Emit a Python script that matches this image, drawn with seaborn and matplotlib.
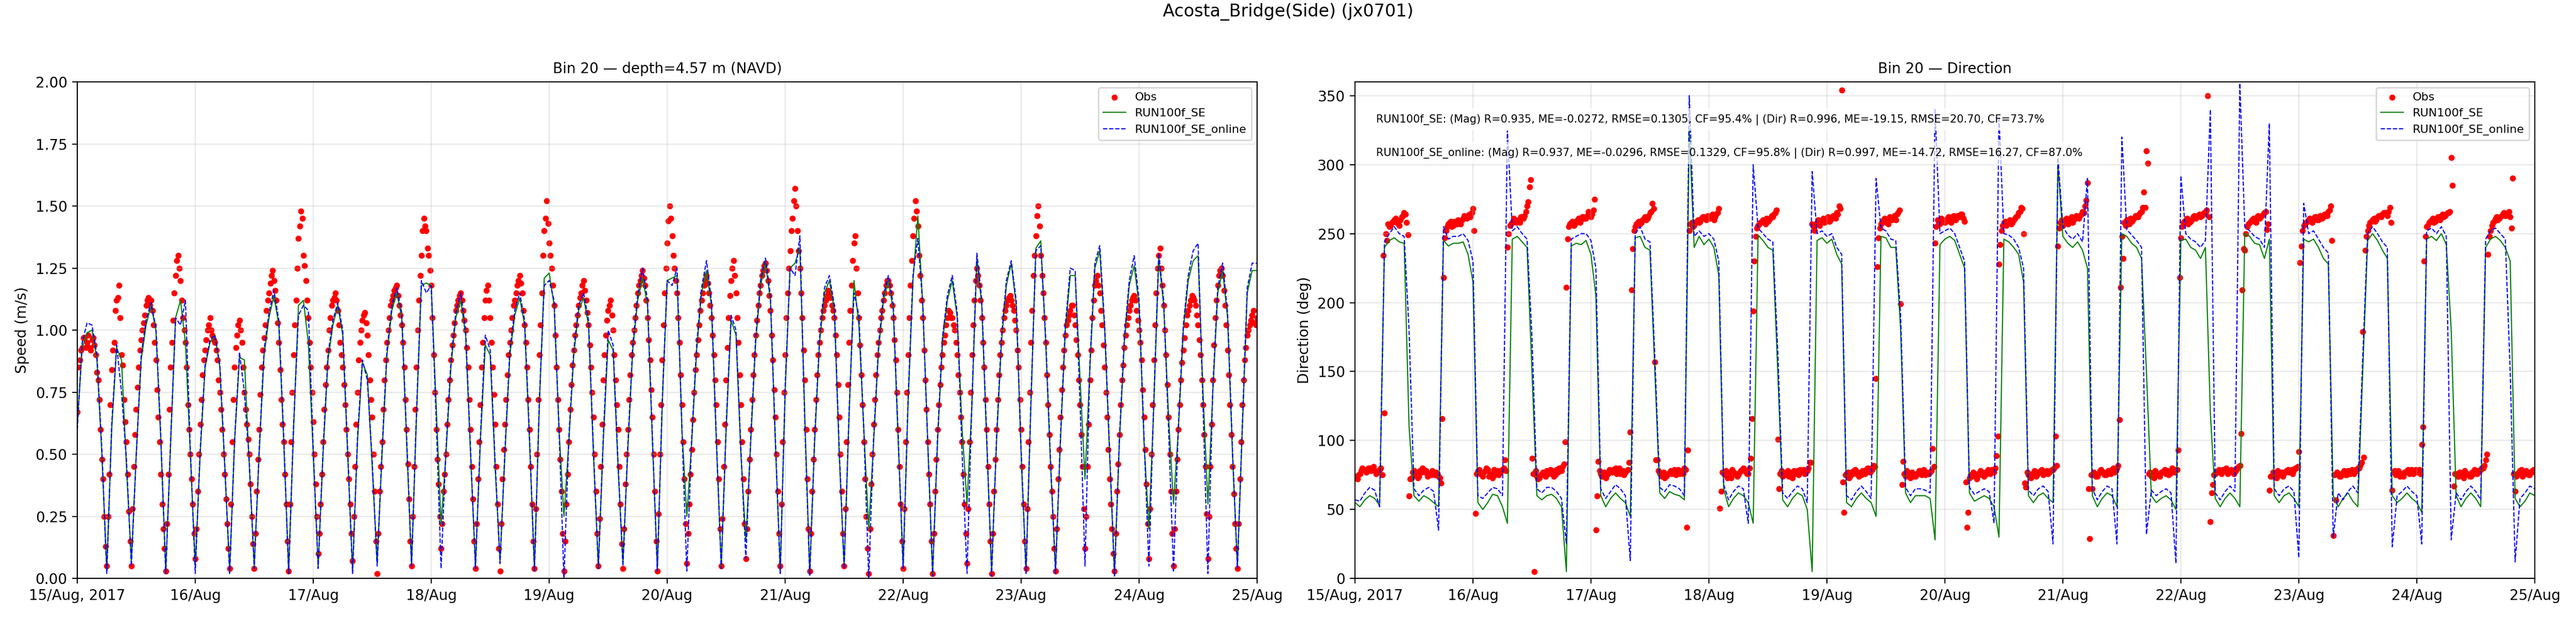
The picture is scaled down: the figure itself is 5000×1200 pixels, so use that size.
import matplotlib
matplotlib.use("Agg")
import matplotlib.pyplot as plt
import seaborn as sns
import pandas as pd

# observed speed (m/s), every 30 min from 15/Aug 00:00
obs_speed = [
    0.67, 0.88, 0.93, 0.97, 0.95, 0.93, 0.96, 0.94, 0.83, 0.72, 0.48, 0.25, 0.05, 0.42, 0.84, 0.95, 1.12, 1.18, 0.90, 0.72, 0.55, 0.27,
    0.05, 0.45, 0.68, 0.85, 0.96, 1.03, 1.10, 1.13, 1.12, 1.02, 0.88, 0.65, 0.42, 0.20, 0.03, 0.42, 0.85, 1.04, 1.22, 1.30, 1.20, 1.05, 0.95, 0.70, 0.50, 0.30,
    0.08, 0.35, 0.62, 0.82, 0.92, 1.00, 1.05, 0.98, 0.95, 0.88, 0.75, 0.60, 0.42, 0.22, 0.04, 0.55, 0.85, 0.98, 1.04, 0.95, 0.75, 0.62, 0.50, 0.25,
    0.04, 0.35, 0.60, 0.85, 0.97, 1.08, 1.15, 1.22, 1.20, 1.12, 0.95, 0.72, 0.55, 0.30, 0.03, 0.55, 0.90, 1.12, 1.37, 1.48, 1.30, 1.20, 1.05, 0.85,
    0.63, 0.38, 0.10, 0.30, 0.55, 0.78, 0.92, 1.05, 1.12, 1.15, 1.08, 0.95, 0.85, 0.70, 0.50, 0.30, 0.07, 0.45, 0.75, 0.95, 1.04, 1.07, 0.98, 0.80,
    0.65, 0.35, 0.02, 0.35, 0.55, 0.80, 0.95, 1.05, 1.12, 1.16, 1.18, 1.10, 1.02, 0.85, 0.60, 0.32, 0.05, 0.45, 0.85, 1.12, 1.30, 1.45, 1.40, 1.30,
    1.18, 0.90, 0.60, 0.38, 0.12, 0.35, 0.50, 0.72, 0.88, 0.98, 1.08, 1.12, 1.15, 1.08, 1.00, 0.85, 0.60, 0.32, 0.04, 0.40, 0.70, 0.95, 1.12, 1.18,
    1.05, 0.85, 0.62, 0.30, 0.03, 0.40, 0.62, 0.82, 0.95, 1.05, 1.12, 1.18, 1.22, 1.15, 1.02, 0.85, 0.60, 0.30, 0.04, 0.50, 0.90, 1.15, 1.40, 1.52,
    1.35, 1.25, 1.10, 0.85, 0.60, 0.35, 0.03, 0.30, 0.55, 0.78, 0.92, 1.02, 1.10, 1.15, 1.20, 1.12, 1.02, 0.85, 0.65, 0.35, 0.05, 0.45, 0.80, 0.98,
    1.08, 1.12, 1.00, 0.80, 0.60, 0.30, 0.04, 0.38, 0.60, 0.82, 0.95, 1.05, 1.15, 1.20, 1.24, 1.18, 1.05, 0.88, 0.65, 0.35, 0.03, 0.50, 0.88, 1.15,
    1.35, 1.50, 1.38, 1.25, 1.15, 0.95, 0.70, 0.40, 0.06, 0.30, 0.52, 0.75, 0.90, 1.02, 1.12, 1.18, 1.22, 1.15, 1.05, 0.90, 0.70, 0.40, 0.05, 0.45,
    0.80, 1.05, 1.20, 1.28, 1.15, 0.95, 0.70, 0.40, 0.08, 0.35, 0.60, 0.82, 0.98, 1.10, 1.18, 1.24, 1.27, 1.20, 1.08, 0.88, 0.65, 0.35, 0.05, 0.55,
    0.90, 1.15, 1.32, 1.45, 1.57, 1.40, 1.25, 1.05, 0.80, 0.40, 0.03, 0.35, 0.60, 0.82, 0.95, 1.05, 1.10, 1.14, 1.15, 1.10, 1.05, 0.90, 0.65, 0.35,
    0.05, 0.55, 0.95, 1.18, 1.35, 1.25, 1.05, 0.82, 0.55, 0.25, 0.02, 0.38, 0.62, 0.82, 0.95, 1.05, 1.12, 1.18, 1.20, 1.15, 1.05, 0.88, 0.60, 0.30,
    0.04, 0.55, 0.90, 1.18, 1.38, 1.52, 1.42, 1.22, 1.05, 0.80, 0.55, 0.30, 0.02, 0.35, 0.60, 0.78, 0.90, 0.98, 1.05, 1.07, 1.05, 1.00, 0.90, 0.75,
    0.55, 0.30, 0.06, 0.55, 0.90, 1.12, 1.25, 1.18, 1.05, 0.85, 0.60, 0.30, 0.02, 0.35, 0.60, 0.82, 0.95, 1.05, 1.10, 1.13, 1.12, 1.08, 1.00, 0.85,
    0.60, 0.30, 0.04, 0.55, 0.95, 1.22, 1.38, 1.50, 1.30, 1.15, 0.95, 0.70, 0.45, 0.25, 0.03, 0.40, 0.65, 0.85, 0.98, 1.04, 1.08, 1.10, 1.02, 0.90,
    0.70, 0.45, 0.12, 0.45, 0.80, 1.05, 1.18, 1.22, 1.15, 1.02, 0.85, 0.65, 0.40, 0.20, 0.03, 0.35, 0.58, 0.80, 0.93, 1.02, 1.08, 1.12, 1.14, 1.08,
    1.00, 0.88, 0.65, 0.38, 0.08, 0.50, 0.88, 1.15, 1.30, 1.25, 1.10, 0.90, 0.65, 0.35, 0.05, 0.35, 0.60, 0.80, 0.92, 1.02, 1.08, 1.12, 1.13, 1.10,
    1.02, 0.90, 0.70, 0.45, 0.08, 0.45, 0.80, 1.05, 1.18, 1.24, 1.22, 1.10, 0.92, 0.70, 0.45, 0.22, 0.04, 0.40, 0.70, 0.88, 0.98, 1.02, 1.06, 1.03,
    1.05,
]
# observed speed at the quarter past / quarter to samples (00:15, 00:45, ...)
obs_speed_q = [
    0.85, 0.92, 0.97, 0.93, 0.98, 0.92, 0.97, 0.90, 0.80, 0.60, 0.40, 0.13, 0.25, 0.70, 0.92, 1.08, 1.13, 1.05, 0.86, 0.63, 0.42, 0.15,
    0.28, 0.58, 0.77, 0.92, 1.00, 1.06, 1.12, 1.10, 1.08, 0.95, 0.76, 0.55, 0.30, 0.12, 0.22, 0.68, 0.95, 1.15, 1.28, 1.25, 1.12, 1.00, 0.85, 0.60, 0.40, 0.18,
    0.20, 0.50, 0.72, 0.88, 0.96, 1.02, 1.00, 0.96, 0.92, 0.80, 0.68, 0.50, 0.32, 0.12, 0.30, 0.72, 0.93, 1.02, 1.00, 0.85, 0.68, 0.56, 0.38, 0.14,
    0.18, 0.48, 0.74, 0.92, 1.02, 1.12, 1.19, 1.24, 1.16, 1.03, 0.84, 0.62, 0.42, 0.15, 0.30, 0.75, 1.02, 1.25, 1.42, 1.45, 1.26, 1.12, 0.95, 0.75,
    0.50, 0.25, 0.18, 0.42, 0.68, 0.85, 1.00, 1.10, 1.13, 1.12, 1.02, 0.90, 0.78, 0.60, 0.40, 0.18, 0.25, 0.62, 0.88, 1.00, 1.06, 1.03, 0.90, 0.72,
    0.50, 0.15, 0.18, 0.45, 0.68, 0.88, 1.00, 1.10, 1.14, 1.17, 1.14, 1.06, 0.95, 0.72, 0.46, 0.15, 0.25, 0.68, 1.00, 1.22, 1.40, 1.42, 1.33, 1.24,
    1.05, 0.75, 0.48, 0.25, 0.22, 0.42, 0.62, 0.80, 0.94, 1.03, 1.10, 1.14, 1.12, 1.04, 0.93, 0.72, 0.45, 0.15, 0.22, 0.55, 0.85, 1.05, 1.16, 1.12,
    0.95, 0.74, 0.45, 0.12, 0.22, 0.52, 0.72, 0.90, 1.00, 1.10, 1.15, 1.20, 1.19, 1.08, 0.95, 0.72, 0.45, 0.15, 0.28, 0.72, 1.02, 1.30, 1.45, 1.43,
    1.30, 1.18, 0.98, 0.72, 0.48, 0.18, 0.15, 0.42, 0.68, 0.86, 0.98, 1.06, 1.13, 1.18, 1.16, 1.07, 0.94, 0.75, 0.50, 0.18, 0.24, 0.62, 0.90, 1.04,
    1.10, 1.06, 0.90, 0.70, 0.45, 0.14, 0.20, 0.50, 0.72, 0.90, 1.00, 1.10, 1.18, 1.22, 1.21, 1.12, 0.96, 0.76, 0.50, 0.15, 0.26, 0.70, 1.02, 1.25,
    1.44, 1.45, 1.30, 1.20, 1.05, 0.82, 0.55, 0.22, 0.18, 0.42, 0.64, 0.84, 0.96, 1.08, 1.15, 1.20, 1.19, 1.10, 0.98, 0.80, 0.55, 0.20, 0.24, 0.62,
    0.93, 1.14, 1.25, 1.22, 1.05, 0.82, 0.55, 0.22, 0.20, 0.48, 0.72, 0.90, 1.04, 1.15, 1.22, 1.26, 1.24, 1.14, 0.98, 0.76, 0.50, 0.18, 0.30, 0.75,
    1.05, 1.25, 1.40, 1.52, 1.50, 1.32, 1.15, 0.92, 0.60, 0.20, 0.18, 0.48, 0.72, 0.90, 1.00, 1.08, 1.12, 1.16, 1.13, 1.08, 0.98, 0.78, 0.50, 0.18,
    0.28, 0.78, 1.08, 1.28, 1.38, 1.15, 0.94, 0.70, 0.40, 0.12, 0.20, 0.50, 0.72, 0.90, 1.00, 1.08, 1.15, 1.20, 1.18, 1.10, 0.96, 0.75, 0.45, 0.15,
    0.28, 0.75, 1.05, 1.28, 1.45, 1.48, 1.30, 1.12, 0.92, 0.68, 0.42, 0.15, 0.18, 0.48, 0.70, 0.85, 0.95, 1.02, 1.08, 1.05, 1.02, 0.95, 0.82, 0.65,
    0.42, 0.18, 0.28, 0.75, 1.02, 1.20, 1.22, 1.12, 0.95, 0.72, 0.45, 0.15, 0.18, 0.48, 0.72, 0.90, 1.00, 1.08, 1.12, 1.14, 1.10, 1.04, 0.92, 0.72,
    0.45, 0.15, 0.28, 0.75, 1.08, 1.30, 1.46, 1.42, 1.22, 1.05, 0.82, 0.58, 0.35, 0.12, 0.20, 0.52, 0.76, 0.92, 1.02, 1.06, 1.10, 1.06, 0.96, 0.80,
    0.58, 0.28, 0.25, 0.62, 0.92, 1.12, 1.20, 1.18, 1.08, 0.94, 0.75, 0.52, 0.30, 0.10, 0.18, 0.46, 0.70, 0.86, 0.98, 1.05, 1.10, 1.13, 1.12, 1.04,
    0.95, 0.76, 0.52, 0.22, 0.28, 0.70, 1.02, 1.25, 1.33, 1.18, 1.00, 0.78, 0.50, 0.18, 0.20, 0.48, 0.70, 0.87, 0.97, 1.06, 1.10, 1.14, 1.12, 1.06,
    0.96, 0.80, 0.58, 0.26, 0.25, 0.62, 0.94, 1.12, 1.22, 1.25, 1.16, 1.02, 0.82, 0.58, 0.34, 0.12, 0.22, 0.55, 0.80, 0.93, 1.00, 1.04, 1.08, 1.02,
]

# model speed (m/s), hourly
se_speed = [
    0.62, 0.93, 0.99, 1.00, 0.88, 0.50, 0.03, 0.60, 0.93, 0.88, 0.45, 0.07, 0.50, 0.88, 1.02, 1.10, 1.00, 0.55, 0.03, 0.55, 1.05, 1.12, 0.95, 0.50,
    0.05, 0.50, 0.85, 0.95, 0.98, 0.85, 0.45, 0.03, 0.55, 0.89, 0.88, 0.45, 0.05, 0.50, 0.90, 1.05, 1.14, 1.02, 0.55, 0.03, 0.60, 1.10, 1.12, 0.95,
    0.50, 0.05, 0.50, 0.88, 1.02, 1.10, 0.98, 0.50, 0.03, 0.55, 0.87, 0.82, 0.45, 0.06, 0.50, 0.90, 1.08, 1.15, 1.05, 0.55, 0.05, 0.65, 1.18, 1.19,
    1.18, 0.70, 0.22, 0.50, 0.85, 1.05, 1.12, 0.98, 0.50, 0.05, 0.55, 0.94, 0.90, 0.45, 0.07, 0.50, 0.90, 1.06, 1.13, 1.02, 0.55, 0.04, 0.70, 1.21,
    1.23, 1.10, 0.60, 0.25, 0.55, 0.90, 1.08, 1.13, 1.02, 0.50, 0.05, 0.55, 0.96, 0.92, 0.45, 0.06, 0.52, 0.92, 1.12, 1.21, 1.10, 0.55, 0.04, 0.70,
    1.20, 1.21, 1.22, 0.60, 0.25, 0.55, 0.92, 1.15, 1.24, 1.10, 0.55, 0.05, 0.60, 1.04, 0.98, 0.50, 0.15, 0.55, 0.95, 1.18, 1.27, 1.12, 0.55, 0.03,
    0.75, 1.25, 1.27, 1.33, 0.65, 0.02, 0.55, 0.95, 1.15, 1.20, 1.08, 0.50, 0.05, 0.65, 1.20, 1.02, 0.60, 0.20, 0.55, 0.92, 1.12, 1.20, 1.08, 0.55,
    0.05, 0.70, 1.20, 1.46, 1.10, 0.55, 0.02, 0.55, 0.95, 1.12, 1.20, 1.05, 0.60, 0.30, 0.70, 1.29, 1.10, 0.55, 0.03, 0.55, 0.95, 1.18, 1.27, 1.10,
    0.50, 0.03, 0.70, 1.33, 1.36, 0.95, 0.45, 0.03, 0.55, 1.00, 1.22, 1.22, 0.80, 0.40, 0.85, 1.25, 1.32, 1.00, 0.50, 0.02, 0.55, 0.95, 1.18, 1.26,
    1.10, 0.55, 0.20, 0.70, 1.29, 1.10, 0.65, 0.30, 0.60, 1.00, 1.20, 1.28, 1.30, 0.75, 0.30, 0.75, 1.15, 1.24, 1.05, 0.50, 0.05, 0.60, 1.15, 1.24,
    1.24,
]
online_speed = [
    0.60, 0.95, 1.03, 1.02, 0.90, 0.52, 0.02, 0.62, 0.94, 0.75, 0.48, 0.05, 0.50, 0.90, 1.04, 1.11, 1.01, 0.57, 0.02, 0.56, 1.05, 1.02, 1.12, 0.52,
    0.02, 0.52, 0.86, 0.96, 0.98, 0.86, 0.46, 0.02, 0.56, 0.91, 0.75, 0.47, 0.04, 0.52, 0.92, 1.07, 1.16, 1.04, 0.57, 0.02, 0.62, 1.06, 1.10, 1.08,
    0.52, 0.04, 0.52, 0.90, 1.04, 1.11, 1.00, 0.52, 0.02, 0.57, 0.88, 0.80, 0.47, 0.05, 0.52, 0.92, 1.10, 1.17, 1.07, 0.57, 0.05, 0.67, 1.20, 1.15,
    1.18, 0.65, 0.04, 0.52, 0.87, 1.07, 1.15, 1.00, 0.52, 0.04, 0.57, 0.98, 0.92, 0.47, 0.06, 0.52, 0.92, 1.08, 1.15, 1.04, 0.57, 0.03, 0.72, 1.18,
    1.20, 1.12, 0.60, 0.00, 0.57, 0.92, 1.10, 1.15, 1.04, 0.52, 0.04, 0.57, 1.00, 0.94, 0.47, 0.05, 0.54, 0.94, 1.14, 1.25, 1.12, 0.57, 0.03, 0.72,
    1.20, 1.18, 1.25, 0.60, 0.03, 0.57, 0.94, 1.17, 1.28, 1.12, 0.57, 0.04, 0.62, 1.06, 1.00, 0.52, 0.08, 0.57, 0.97, 1.20, 1.29, 1.14, 0.57, 0.02,
    0.77, 1.25, 1.22, 1.38, 0.62, 0.01, 0.57, 0.97, 1.17, 1.22, 1.10, 0.52, 0.04, 0.67, 1.15, 1.06, 0.60, 0.00, 0.57, 0.94, 1.14, 1.22, 1.10, 0.57,
    0.04, 0.72, 1.22, 1.37, 1.10, 0.55, 0.01, 0.57, 0.97, 1.14, 1.22, 1.07, 0.50, 0.02, 0.72, 1.31, 1.12, 0.57, 0.01, 0.57, 0.97, 1.20, 1.28, 1.12,
    0.52, 0.02, 0.72, 1.32, 1.34, 0.97, 0.47, 0.02, 0.57, 1.02, 1.25, 1.24, 0.70, 0.05, 0.87, 1.27, 1.34, 1.02, 0.52, 0.01, 0.57, 0.97, 1.20, 1.30,
    1.12, 0.57, 0.05, 0.72, 1.31, 1.12, 0.60, 0.03, 0.62, 1.02, 1.22, 1.32, 1.35, 0.70, 0.02, 0.77, 1.17, 1.27, 1.07, 0.52, 0.04, 0.62, 1.17, 1.27,
    1.27,
]

# observed direction (deg), every 30 min
obs_dir = [
    74, 72, 76, 80, 79, 78, 80, 79, 78, 77, 79, 75, 120, 245, 255, 258, 260, 258, 256, 262, 265, 258,
    60, 73, 78, 76, 74, 77, 79, 78, 76, 75, 76, 77, 74, 69, 218, 252, 257, 259, 256, 258, 260, 257, 261, 262, 263, 262,
    268, 47, 78, 76, 74, 78, 79, 76, 73, 75, 78, 77, 79, 86, 240, 256, 258, 260, 259, 258, 262, 263, 270, 284,
    87, 5, 74, 73, 76, 75, 78, 77, 76, 74, 79, 80, 78, 83, 211, 255, 258, 256, 259, 261, 260, 262, 261, 266,
    262, 267, 35, 85, 76, 74, 73, 76, 78, 79, 80, 77, 76, 78, 77, 79, 106, 239, 255, 258, 257, 260, 262, 261, 265, 272,
    157, 86, 76, 74, 73, 75, 77, 76, 79, 78, 76, 77, 80, 37, 252, 258, 256, 259, 258, 261, 262, 260,
    262, 263, 260, 264, 268, 63, 76, 78, 74, 73, 77, 76, 75, 78, 80, 77, 76, 87, 194, 248, 256, 258, 260, 257, 259, 261, 262, 265,
    101, 76, 74, 75, 78, 77, 73, 76, 78, 79, 77, 76, 78, 84, 257, 252, 258, 256, 259, 258,
    260, 259, 261, 262, 265, 270, 354, 48, 76, 73, 77, 78, 76, 74, 75, 77, 79, 78, 80, 82, 145, 247, 257, 260, 258, 257, 261, 262, 260, 265,
    199, 85, 74, 76, 73, 75, 74, 76, 78, 77, 75, 76, 77, 94, 243, 260, 257, 259,
    258, 261, 259, 262, 261, 263, 262, 264, 259, 37, 73, 74, 76, 72, 75, 77, 74, 76, 78, 79, 77, 89, 228, 252, 258, 256, 259, 257, 260, 262, 265, 269,
    250, 66, 75, 73, 76, 74, 77, 78, 75, 77, 76, 78, 79, 103, 241, 258,
    256, 259, 257, 260, 258, 261, 262, 263, 266, 270, 287, 29, 65, 76, 74, 78, 77, 75, 76, 78, 79, 77, 80, 115,
    248, 258, 260, 257, 259, 261, 262, 264, 266, 280, 310, 76, 74, 73, 76, 75, 77, 78, 76, 75, 77, 78, 79, 93,
    247, 258, 260, 257, 259, 262, 261, 263, 262, 264, 265, 350, 41, 68, 76, 78, 77, 79, 78, 76, 77, 78, 79, 80, 82,
    209, 238, 255, 258, 260, 259, 262, 261, 263, 265, 253, 64, 74, 76, 73, 75, 77, 76, 78, 77, 79, 78, 80,
    92, 241, 256, 258, 260, 259, 261, 262, 260, 263, 262, 264, 266, 270, 31, 57, 76, 74, 77, 75, 78, 76, 77, 79, 80, 82, 179,
    238, 252, 258, 260, 259, 262, 263, 264, 265, 263, 269, 64, 78, 76, 74, 75, 77, 78, 76, 79, 78,
    77, 79, 97, 230, 255, 258, 260, 258, 261, 262, 263, 262, 264, 265, 305, 67, 76, 74, 75, 73, 76, 75, 74, 76, 77, 78, 79, 80, 86,
    235, 252, 258, 261, 260, 262, 264, 263, 265, 262, 290, 63, 76, 78, 74, 76, 77, 75, 78, 77,
]
# observed direction at the quarter past / quarter to samples
obs_dir_q = [
    73, 75, 78, 79, 77, 80, 78, 81, 76, 78, 80, 234, 250, 257, 256, 259, 261, 257, 260, 263, 264, 249,
    72, 77, 75, 73, 78, 80, 77, 74, 76, 78, 75, 76, 73, 116, 247, 255, 258, 255, 259, 257, 259, 260, 263, 261, 264, 265,
    252, 76, 79, 75, 77, 80, 74, 76, 79, 77, 75, 78, 80, 78, 250, 257, 261, 258, 260, 262, 261, 266, 273, 289,
    76, 78, 72, 75, 77, 74, 76, 79, 78, 75, 77, 79, 81, 99, 246, 257, 259, 257, 260, 258, 262, 261, 263, 264,
    264, 275, 60, 78, 74, 77, 75, 79, 77, 78, 76, 80, 77, 75, 78, 84, 209, 252, 257, 259, 258, 261, 260, 263, 266, 268,
    86, 78, 75, 77, 74, 76, 78, 77, 75, 79, 78, 76, 79, 93, 257, 255, 258, 260, 259, 262, 261, 263,
    261, 264, 262, 265, 51, 77, 75, 73, 77, 79, 76, 74, 77, 79, 78, 76, 80, 116, 230, 254, 257, 259, 258, 261, 260, 263, 264, 267,
    65, 78, 75, 77, 74, 76, 78, 77, 75, 78, 79, 77, 80, 84, 255, 257, 260, 258, 261, 259,
    262, 260, 263, 261, 264, 268, 70, 75, 77, 74, 76, 79, 77, 75, 78, 76, 80, 77, 79, 81, 226, 254, 258, 261, 259, 262, 260, 263, 264, 267,
    68, 76, 78, 75, 77, 74, 76, 78, 75, 79, 77, 76, 78, 81, 255, 258, 261, 259,
    260, 262, 258, 263, 260, 262, 264, 261, 70, 48, 75, 77, 74, 76, 78, 75, 77, 79, 76, 78, 80, 103, 242, 256, 259, 257, 260, 258, 261, 263, 266, 268,
    69, 77, 74, 76, 78, 75, 77, 79, 76, 78, 77, 79, 80, 82, 254, 260,
    258, 261, 259, 262, 260, 263, 261, 264, 265, 274, 65, 75, 77, 74, 76, 79, 77, 75, 78, 76, 80, 78, 82, 211,
    232, 256, 259, 261, 260, 263, 262, 265, 269, 269, 301, 77, 75, 78, 76, 74, 77, 79, 78, 76, 80, 77, 79, 218,
    255, 259, 261, 258, 260, 263, 262, 264, 263, 265, 267, 262, 62, 75, 77, 79, 76, 78, 80, 77, 79, 76, 78, 81, 105,
    239, 250, 257, 259, 261, 258, 263, 262, 264, 266, 257, 74, 77, 75, 78, 76, 74, 77, 79, 78, 76, 80, 81,
    229, 252, 257, 259, 261, 258, 262, 260, 263, 261, 264, 263, 267, 245, 75, 77, 74, 76, 78, 75, 77, 79, 76, 78, 80, 84, 88,
    248, 256, 259, 261, 260, 263, 262, 265, 264, 266, 258, 77, 75, 78, 76, 74, 77, 79, 78, 76, 79,
    78, 76, 110, 248, 256, 259, 261, 259, 262, 260, 264, 263, 265, 266, 285, 76, 74, 77, 75, 78, 76, 74, 77, 79, 76, 78, 80, 82, 90,
    248, 256, 259, 262, 261, 263, 265, 264, 266, 254, 76, 74, 77, 79, 76, 78, 75, 77, 79,
]

# model direction (deg), hourly
se_dir = [
    55, 52, 57, 60, 58, 53, 240, 245, 247, 244, 243, 110, 60, 56, 60, 58, 55, 52, 245, 241, 243, 243, 244, 235,
    215, 55, 50, 55, 61, 60, 52, 40, 246, 248, 244, 240, 150, 60, 57, 60, 61, 58, 52, 5, 241, 243, 242, 245,
    235, 205, 60, 52, 58, 62, 58, 55, 45, 247, 248, 240, 238, 150, 62, 58, 63, 61, 60, 57, 325, 240, 248, 242,
    246, 240, 220, 65, 52, 58, 62, 60, 55, 40, 249, 245, 240, 238, 150, 57, 52, 58, 62, 60, 50, 5, 245, 247,
    243, 246, 235, 228, 55, 52, 58, 62, 58, 55, 45, 248, 247, 240, 240, 180, 62, 55, 60, 60, 60, 58, 28, 242,
    246, 248, 245, 235, 225, 62, 56, 58, 60, 58, 52, 30, 246, 244, 240, 235, 215, 60, 55, 60, 62, 58, 55, 300,
    248, 243, 240, 244, 238, 225, 60, 52, 58, 62, 60, 52, 250, 248, 243, 240, 232, 150, 60, 55, 58, 60, 57, 50,
    245, 246, 240, 238, 232, 240, 120, 58, 52, 58, 62, 58, 52, 250, 248, 243, 242, 232, 246, 60, 55, 60, 62, 58,
    52, 246, 244, 246, 240, 232, 228, 60, 52, 58, 62, 56, 52, 150, 245, 250, 245, 238, 232, 60, 55, 58, 62, 58,
    55, 48, 246, 248, 245, 250, 242, 180, 60, 52, 58, 62, 58, 52, 240, 246, 248, 245, 240, 230, 58, 52, 56, 62,
    60,
]
online_dir = [
    57, 56, 62, 66, 64, 52, 244, 250, 255, 250, 248, 180, 65, 60, 64, 66, 63, 35, 255, 246, 248, 248, 250, 245,
    230, 60, 58, 62, 66, 65, 60, 325, 252, 255, 250, 246, 175, 65, 62, 66, 66, 63, 58, 25, 246, 248, 250, 250,
    245, 225, 65, 58, 63, 68, 65, 60, 13, 250, 255, 246, 244, 160, 66, 63, 68, 67, 65, 60, 350, 248, 252, 248,
    250, 246, 230, 68, 57, 63, 67, 65, 40, 300, 254, 250, 246, 244, 165, 62, 58, 63, 67, 65, 55, 295, 250, 252,
    248, 250, 240, 235, 60, 57, 63, 67, 63, 58, 290, 254, 252, 246, 245, 190, 66, 60, 65, 65, 64, 62, 340, 250,
    252, 254, 250, 240, 230, 66, 61, 63, 65, 63, 40, 335, 250, 249, 246, 240, 225, 64, 60, 65, 67, 63, 25, 305,
    255, 249, 246, 250, 244, 290, 65, 57, 63, 67, 65, 25, 320, 253, 249, 245, 240, 32, 64, 60, 63, 65, 62, 11,
    292, 250, 246, 244, 240, 245, 340, 62, 57, 63, 67, 63, 359, 255, 252, 248, 246, 240, 330, 65, 60, 65, 67, 63,
    15, 272, 250, 252, 246, 240, 236, 30, 62, 57, 63, 67, 62, 160, 250, 255, 250, 244, 240, 23, 60, 63, 67, 63,
    60, 25, 252, 254, 250, 255, 248, 28, 62, 57, 63, 67, 63, 57, 246, 252, 254, 250, 246, 150, 12, 58, 62, 67,
    65,
]

tick_days = ["2017-08-15", "2017-08-16", "2017-08-17", "2017-08-18", "2017-08-19", "2017-08-20",
             "2017-08-21", "2017-08-22", "2017-08-23", "2017-08-24", "2017-08-25"]
tick_labels = ["15/Aug, 2017", "16/Aug", "17/Aug", "18/Aug", "19/Aug", "20/Aug",
               "21/Aug", "22/Aug", "23/Aug", "24/Aug", "25/Aug"]

stats_se = "RUN100f_SE: (Mag) R=0.935, ME=-0.0272, RMSE=0.1305, CF=95.4% | (Dir) R=0.996, ME=-19.15, RMSE=20.70, CF=73.7%"
stats_online = "RUN100f_SE_online: (Mag) R=0.937, ME=-0.0296, RMSE=0.1329, CF=95.8% | (Dir) R=0.997, ME=-14.72, RMSE=16.27, CF=87.0%"

plt.rcParams["font.family"] = "DejaVu Sans"

fig, axes = plt.subplots(1, 2, figsize=(25, 6), dpi=200)
fig.subplots_adjust(left=0.03, right=0.984, bottom=0.064, top=0.8675, wspace=0.083)
fig.suptitle("Acosta_Bridge(Side) (jx0701)", fontsize=12, y=0.995)

panels = [
    (axes[0], obs_speed, obs_speed_q, se_speed, online_speed, "Bin 20 \u2014 depth=4.57 m (NAVD)", "Speed (m/s)", (0, 2)),
    (axes[1], obs_dir, obs_dir_q, se_dir, online_dir, "Bin 20 \u2014 Direction", "Direction (deg)", (0, 360)),
]

for ax, obs, obs_q, se, online, title, ylabel, ylim in panels:
    t_half = pd.date_range("2017-08-15 00:00", periods=len(obs), freq="30min")
    t_quar = pd.date_range("2017-08-15 00:15", periods=len(obs_q), freq="30min")
    t_obs = t_half.append(t_quar)
    y_obs = list(obs) + list(obs_q)
    t_se = pd.date_range("2017-08-15", periods=len(se), freq="h")
    t_on = pd.date_range("2017-08-15", periods=len(online), freq="h")

    sns.scatterplot(x=t_obs, y=y_obs, color="red", s=18, linewidth=0, label="Obs", ax=ax)
    sns.lineplot(x=t_se, y=se, color="green", linewidth=0.8, label="RUN100f_SE", ax=ax)
    sns.lineplot(x=t_on, y=online, color="blue", linewidth=0.8, linestyle="--", label="RUN100f_SE_online", ax=ax)

    ax.set_xlim(pd.Timestamp(tick_days[0]), pd.Timestamp(tick_days[-1]))
    ax.set_ylim(*ylim)
    ax.set_xticks(pd.to_datetime(tick_days))
    ax.set_xticklabels(tick_labels)
    ax.set_title(title, fontsize=10)
    ax.set_ylabel(ylabel)
    ax.set_xlabel("")
    ax.grid(True, alpha=0.3)
    ax.legend(loc="upper right", fontsize=8)

axes[0].set_yticks([0, 0.25, 0.5, 0.75, 1.0, 1.25, 1.5, 1.75, 2.0])
axes[1].set_yticks([0, 50, 100, 150, 200, 250, 300, 350])

box = dict(facecolor="white", alpha=0.7, edgecolor="none")
axes[1].text(0.018, 0.924, stats_se, transform=axes[1].transAxes, fontsize=7.5, va="center", bbox=box)
axes[1].text(0.018, 0.857, stats_online, transform=axes[1].transAxes, fontsize=7.5, va="center", bbox=box)

fig.savefig("out.png", dpi=200)
